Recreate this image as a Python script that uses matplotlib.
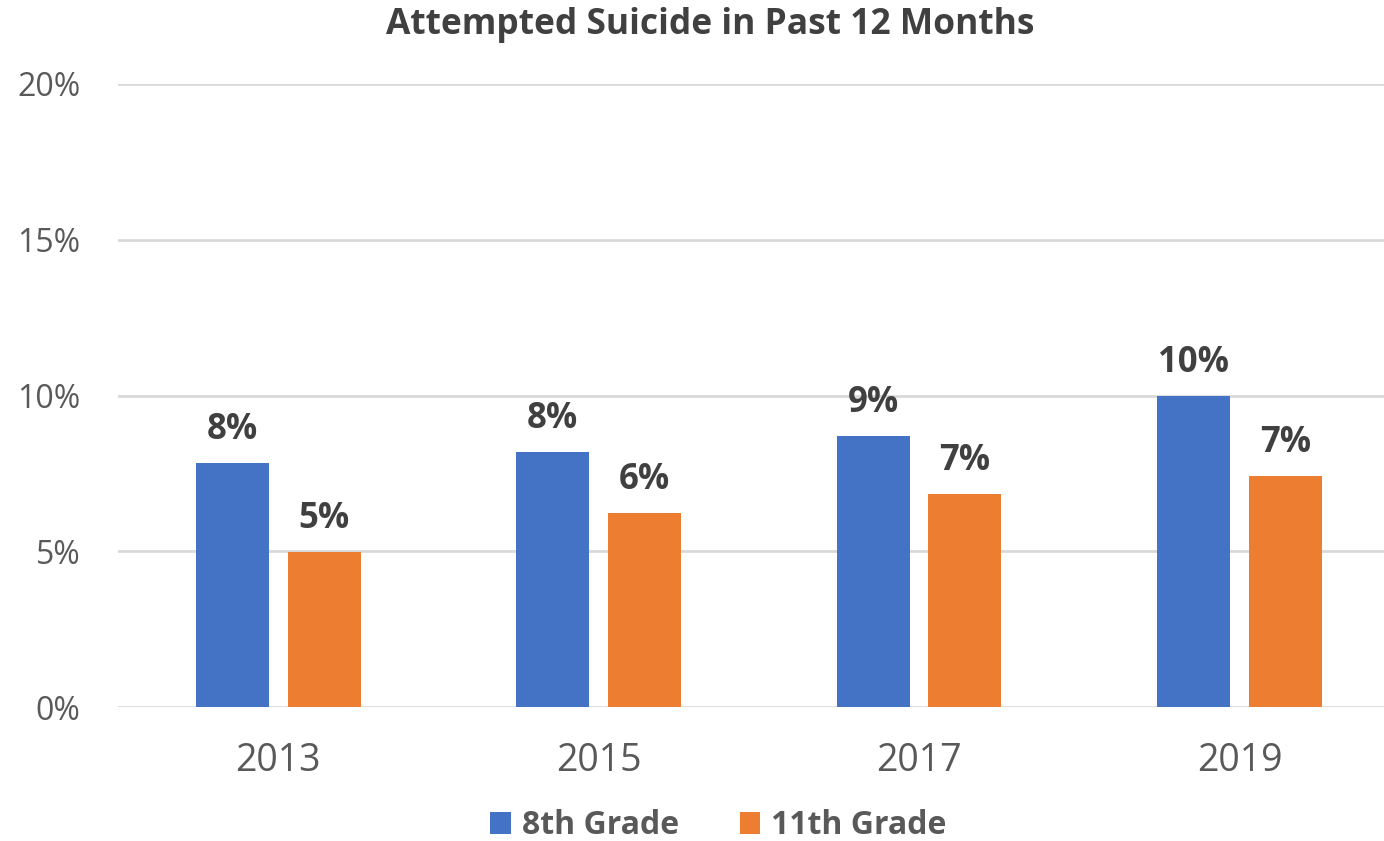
import numpy as np
import matplotlib.pyplot as plt

years = ['2013', '2015', '2017', '2019']
grade8 = [7.83, 8.19, 8.70, 9.98]
grade11 = [4.97, 6.23, 6.84, 7.42]
yticks = [0, 5, 10, 15, 20]

BLUE = '#4472C4'
ORANGE = '#ED7D31'
TXT = '#595959'
plt.rcParams['font.family'] = ['Open Sans', 'DejaVu Sans']

fig = plt.figure(figsize=(13.84, 8.41), dpi=100)
ax = fig.add_axes([118 / 1384, 1 - 707 / 841, 1 - 118 / 1384, (707 - 84) / 841])

x = np.arange(len(years))
w = 0.228
off = 0.143
b1 = ax.bar(x - off, grade8, w, color=BLUE, label='8th Grade', zorder=3)
b2 = ax.bar(x + off, grade11, w, color=ORANGE, label='11th Grade', zorder=3)

# etiquettes de valeur au-dessus des barres
for bars, vals in [(b1, grade8), (b2, grade11)]:
    for rect, v in zip(bars, vals):
        ax.annotate(f'{round(v)}%', (rect.get_x() + rect.get_width() / 2, v),
                    xytext=(0, 11), textcoords='offset points',
                    ha='center', va='bottom', fontsize=25, fontweight='bold',
                    color='#404040')

ax.set_xlim(-0.5, 3.451)
ax.set_ylim(0, 20)
ax.set_yticks(yticks)
ax.set_yticklabels([f'{t}%' for t in yticks], fontsize=23, color=TXT)
ax.set_xticks(x)
ax.set_xticklabels(years, fontsize=27, color=TXT)
ax.tick_params(axis='y', length=0, pad=27)
ax.tick_params(axis='x', length=0, pad=25)
ax.grid(axis='y', color='#D9D9D9', lw=2, zorder=0)
ax.set_axisbelow(True)
for s in ax.spines.values():
    s.set_visible(False)

fig.text(0.513, 0.970, 'Attempted Suicide in Past 12 Months', ha='center', va='center',
         fontsize=25.5, fontweight='bold', color='#404040')

leg = fig.legend(handles=[b1, b2], loc='center', bbox_to_anchor=(0.519, 0.018),
                 ncol=2, frameon=False, handlelength=0.65, handleheight=0.65,
                 handletextpad=0.35, columnspacing=1.9,
                 prop={'size': 23, 'weight': 'bold'})
for t in leg.get_texts():
    t.set_color(TXT)

fig.savefig('out.png', dpi=100)
